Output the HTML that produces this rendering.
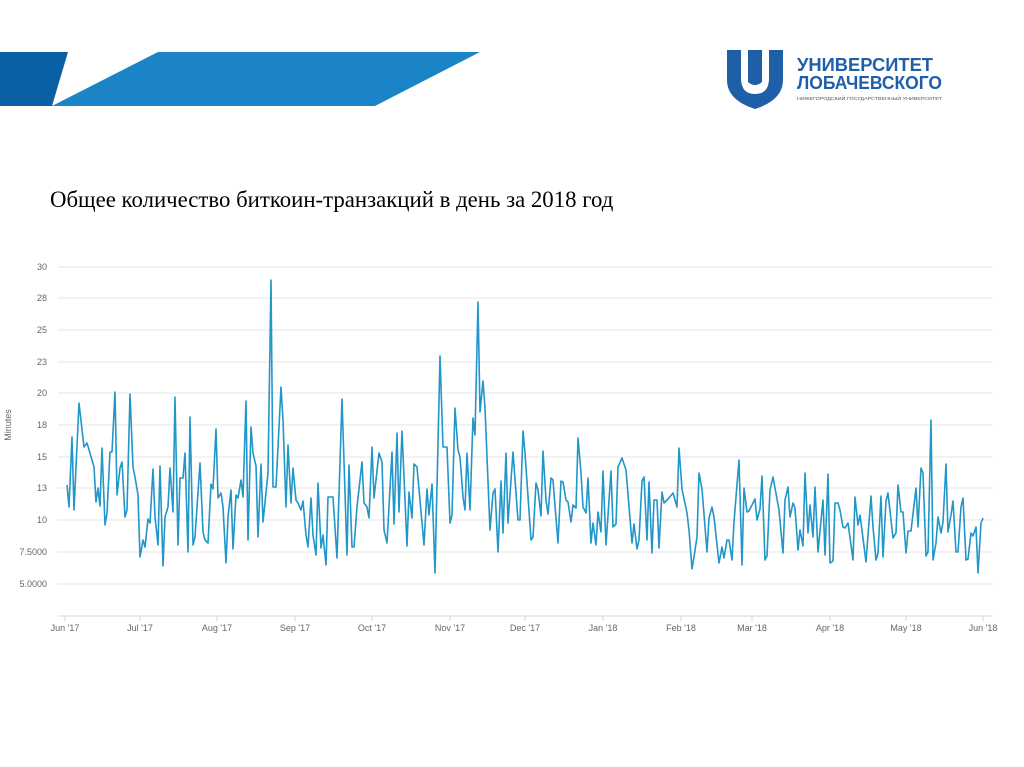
<!DOCTYPE html>
<html><head><meta charset="utf-8"><style>
body{margin:0;width:1024px;height:767px;background:#fff;overflow:hidden;position:relative;font-family:"Liberation Sans",sans-serif}
.t{position:absolute;left:50px;top:187px;font-family:"Liberation Serif",serif;font-size:22.8px;color:#000;white-space:nowrap}
</style></head><body>
<svg width="1024" height="767" style="position:absolute;left:0;top:0">
<polygon points="0,52 68,52 52,106 0,106" fill="#0b5fa5"/>
<polygon points="158,52 480,52 375,106 52,106" fill="#1a84c7"/>
<path d="M727,50 L741,50 L741,78 Q741,94 755,94 Q769,94 769,78 L769,50 L783,50 L783,80 Q783,100 755,109 Q727,100 727,80 Z" fill="#1f5fa8"/>
<path d="M748,50 L762,50 L762,82 Q755,88 748,82 Z" fill="#1f5fa8"/>
<text x="797" y="71" font-family="Liberation Sans" font-weight="bold" font-size="18" fill="#1f5fa8" textLength="136" lengthAdjust="spacingAndGlyphs">УНИВЕРСИТЕТ</text>
<text x="797" y="89" font-family="Liberation Sans" font-weight="bold" font-size="18" fill="#1f5fa8" textLength="145" lengthAdjust="spacingAndGlyphs">ЛОБАЧЕВСКОГО</text>
<text x="797" y="100" font-family="Liberation Sans" font-size="4.5" fill="#555" textLength="145" lengthAdjust="spacingAndGlyphs">НИЖЕГОРОДСКИЙ ГОСУДАРСТВЕННЫЙ УНИВЕРСИТЕТ</text>
<g stroke="#e6e6e6" stroke-width="1">
<line x1="58" x2="993" y1="267" y2="267"/><line x1="58" x2="993" y1="298" y2="298"/><line x1="58" x2="993" y1="330" y2="330"/><line x1="58" x2="993" y1="362" y2="362"/><line x1="58" x2="993" y1="393" y2="393"/><line x1="58" x2="993" y1="425" y2="425"/><line x1="58" x2="993" y1="457" y2="457"/><line x1="58" x2="993" y1="488" y2="488"/><line x1="58" x2="993" y1="520" y2="520"/><line x1="58" x2="993" y1="552" y2="552"/><line x1="58" x2="993" y1="584" y2="584"/>
</g>
<line x1="58" x2="993" y1="616" y2="616" stroke="#ccd6eb"/>
<g stroke="#ccd6eb"><line x1="65" x2="65" y1="616" y2="621"/><line x1="140" x2="140" y1="616" y2="621"/><line x1="217" x2="217" y1="616" y2="621"/><line x1="295" x2="295" y1="616" y2="621"/><line x1="372" x2="372" y1="616" y2="621"/><line x1="450" x2="450" y1="616" y2="621"/><line x1="525" x2="525" y1="616" y2="621"/><line x1="603" x2="603" y1="616" y2="621"/><line x1="681" x2="681" y1="616" y2="621"/><line x1="752" x2="752" y1="616" y2="621"/><line x1="830" x2="830" y1="616" y2="621"/><line x1="906" x2="906" y1="616" y2="621"/><line x1="983" x2="983" y1="616" y2="621"/></g>
<g font-size="9" fill="#666" text-anchor="end">
<text x="47" y="270">30</text><text x="47" y="301">28</text><text x="47" y="333">25</text><text x="47" y="365">23</text><text x="47" y="396">20</text><text x="47" y="428">18</text><text x="47" y="460">15</text><text x="47" y="491">13</text><text x="47" y="523">10</text><text x="47" y="555">7.5000</text><text x="47" y="587">5.0000</text>
</g>
<text transform="translate(11,425) rotate(-90)" font-size="9" fill="#666" text-anchor="middle">Minutes</text>
<g font-size="9" fill="#666" text-anchor="middle">
<text x="65" y="631">Jun '17</text><text x="140" y="631">Jul '17</text><text x="217" y="631">Aug '17</text><text x="295" y="631">Sep '17</text><text x="372" y="631">Oct '17</text><text x="450" y="631">Nov '17</text><text x="525" y="631">Dec '17</text><text x="603" y="631">Jan '18</text><text x="681" y="631">Feb '18</text><text x="752" y="631">Mar '18</text><text x="830" y="631">Apr '18</text><text x="906" y="631">May '18</text><text x="983" y="631">Jun '18</text>
</g>
<polyline fill="none" stroke="#2196c8" stroke-width="1.6" stroke-linejoin="round" points="67,485 69,507 72,437 74,510 79,403 84,447 87,443 94,467 96,502 98,488 100,506 102,448 105,525 107,513 110,452 112,452 115,392 117,495 120,468 122,462 125,517 127,510 130,394 133,467 135,477 138,495 140,557 143,540 145,547 148,519 150,523 153,469 155,517 158,545 160,466 163,566 165,517 168,507 170,468 173,512 175,397 178,545 180,478 183,478 185,453 188,552 190,417 193,545 195,537 200,463 203,532 205,540 208,543 211,484 213,489 216,429 218,498 221,493 223,507 226,563 228,517 231,490 233,549 236,495 238,498 241,480 243,497 246,401 248,540 251,427 253,453 256,466 258,537 261,464 263,522 268,473 271,280 273,487 276,487 281,387 283,420 286,507 288,445 291,503 293,468 296,500 298,503 301,510 303,501 306,535 308,547 311,498 313,535 316,555 318,483 321,548 323,535 326,565 328,497 333,497 337,558 342,399 347,555 349,465 352,547 354,547 357,507 362,462 364,503 367,507 369,518 372,447 374,498 379,453 382,462 384,530 387,543 392,452 394,524 397,433 399,512 402,431 407,546 409,492 412,518 414,464 417,467 424,545 427,489 429,515 432,484 435,573 440,356 443,447 447,447 450,523 452,515 455,408 458,450 460,457 463,497 465,510 467,453 470,510 473,418 475,435 478,302 480,412 483,381 485,408 490,530 493,493 495,489 498,552 501,481 503,533 506,453 508,523 513,452 518,520 520,520 523,431 525,453 531,540 533,537 536,483 538,490 541,516 543,451 546,500 548,514 551,478 553,480 558,543 561,481 563,482 566,500 568,502 571,522 573,505 576,508 578,438 581,473 583,507 586,513 588,478 591,543 593,523 596,545 598,512 601,532 603,471 606,545 611,471 613,527 616,524 618,467 622,458 626,470 632,543 634,524 637,549 639,540 642,481 644,477 647,540 649,482 652,553 654,500 657,500 659,548 662,492 664,503 668,499 673,493 677,507 679,448 682,489 687,513 689,530 692,569 694,557 697,537 699,473 702,489 707,552 709,518 712,507 714,517 719,563 722,547 724,558 727,540 729,540 732,560 734,522 739,460 742,565 744,488 747,512 749,511 755,499 757,520 760,509 762,476 765,560 767,556 770,490 773,477 775,488 779,510 783,553 785,500 788,487 790,517 793,503 795,508 798,550 800,530 803,546 805,473 808,533 810,505 813,537 815,487 818,552 823,500 825,555 828,474 830,563 833,561 835,503 838,503 840,510 843,527 845,528 848,523 853,560 855,497 858,525 860,515 866,562 871,496 873,527 876,560 878,553 881,496 883,557 886,501 888,493 893,538 896,533 898,485 901,512 903,512 906,553 908,531 911,531 916,488 918,527 921,468 923,473 926,556 928,552 931,420 933,560 936,543 938,517 941,533 943,522 946,464 948,532 951,515 953,501 956,552 958,552 961,507 963,498 966,560 968,559 971,533 973,536 976,527 978,573 981,523 983,518"/>
</svg>
<div class="t">Общее количество биткоин-транзакций в день за 2018 год</div>
</body></html>
